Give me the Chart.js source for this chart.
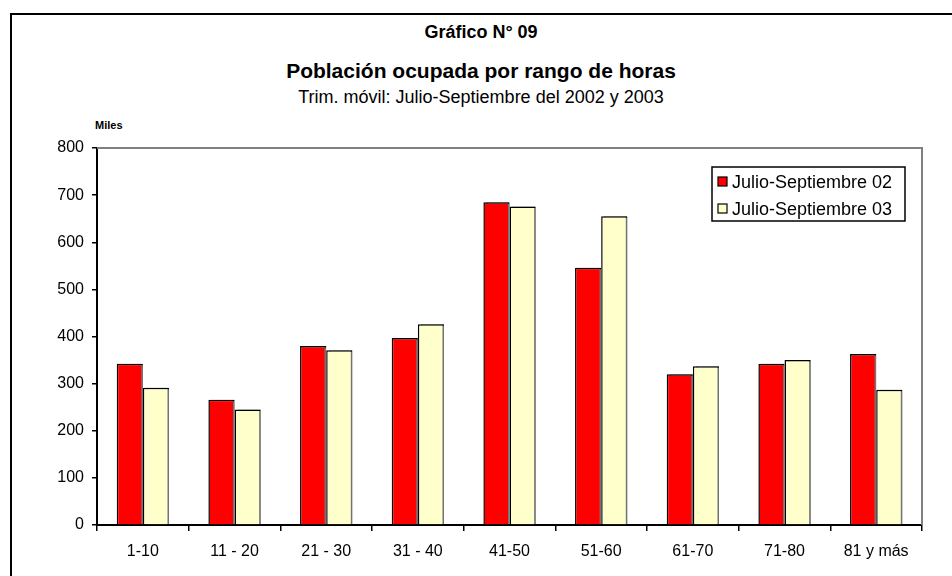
<!DOCTYPE html>
<html>
<head>
<meta charset="utf-8">
<script src="https://cdn.jsdelivr.net/npm/chart.js@4"></script>
<style>
  body { margin: 0; background: #fff; }
  #wrap { position: relative; width: 952px; height: 576px; overflow: hidden; }
  #frame { position: absolute; left: 10px; top: 13px; width: 960px; height: 600px; border-left: 2px solid #000; border-top: 2px solid #000; }
  .t { position: absolute; left: 0; width: 962px; text-align: center; color: #000; font-family: "Liberation Sans Narrow", "Arial Narrow", "Liberation Sans", sans-serif; white-space: nowrap; }
  #t1 { top: 22px; font-size: 18px; font-weight: bold; }
  #t2 { top: 59px; font-size: 21px; font-weight: bold; }
  #t3 { top: 87px; font-size: 18px; }
  #miles { position: absolute; left: 95px; top: 119px; font: bold 11px "Liberation Sans", Arial, sans-serif; }
  canvas { position: absolute; left: 0; top: 0; }
</style>
</head>
<body>
<div id="wrap">
  <div id="frame"></div>
  <div class="t" id="t1">Gráfico N° 09</div>
  <div class="t" id="t2">Población ocupada por rango de horas</div>
  <div class="t" id="t3">Trim. móvil: Julio-Septiembre del 2002 y 2003</div>
  <div id="miles">Miles</div>
  <canvas id="c" width="952" height="576"></canvas>
</div>
<script>
// data (miles)
const categories = ['1-10', '11 - 20', '21 - 30', '31 - 40', '41-50', '51-60', '61-70', '71-80', '81 y más'];
const jul02 = [342, 266, 380, 397, 685, 546, 320, 342, 363];
const jul03 = [291, 245, 371, 426, 676, 655, 337, 350, 287];
const seriesNames = ['Julio-Septiembre 02', 'Julio-Septiembre 03'];
const yTicks = [0, 100, 200, 300, 400, 500, 600, 700, 800];

// grey shadow on the right of each bar
const barShadow = {
  id: 'barShadow',
  beforeDatasetsDraw(chart) {
    const c = chart.ctx;
    c.save();
    c.shadowColor = 'rgba(128,128,128,0.9)';
    c.shadowOffsetX = 3;
    c.shadowOffsetY = 0;
    c.shadowBlur = 0;
  },
  afterDatasetsDraw(chart) {
    chart.ctx.restore();
  }
};

// gray plot frame top/right + boxed legend inside the plot
const frameAndLegend = {
  id: 'frameAndLegend',
  afterDraw(chart) {
    const c = chart.ctx;
    const a = chart.chartArea;
    c.save();
    c.strokeStyle = '#808080';
    c.lineWidth = 2;
    c.beginPath();
    c.moveTo(a.left, a.top);
    c.lineTo(a.right, a.top);
    c.lineTo(a.right, a.bottom);
    c.stroke();

    // legend box
    const bx = 712, by = 167, bw = 193, bh = 54;
    c.fillStyle = '#fff';
    c.fillRect(bx, by, bw, bh);
    c.strokeStyle = '#000';
    c.lineWidth = 1.5;
    c.strokeRect(bx, by, bw, bh);
    c.font = '18px "Liberation Sans", Arial, sans-serif';
    c.textBaseline = 'middle';
    chart.data.datasets.forEach((ds, i) => {
      const y = by + 15 + i * 27;
      c.fillStyle = ds.backgroundColor;
      c.fillRect(bx + 6, y - 5, 9, 9);
      c.strokeStyle = '#000';
      c.lineWidth = 1.2;
      c.strokeRect(bx + 6, y - 5, 9, 9);
      c.fillStyle = '#000';
      c.fillText(ds.label, bx + 20, y + 1);
    });
    c.restore();
  }
};

new Chart(document.getElementById('c'), {
  type: 'bar',
  data: {
    labels: categories,
    datasets: [
      { label: seriesNames[0], data: jul02, backgroundColor: '#FF0000', borderColor: '#000', borderWidth: 1.5 },
      { label: seriesNames[1], data: jul03, backgroundColor: '#FFFFCC', borderColor: '#000', borderWidth: 1.5 }
    ]
  },
  options: {
    responsive: false,
    animation: false,
    layout: { padding: { top: 148, right: 30, left: 0, bottom: 0 } },
    datasets: { bar: { categoryPercentage: 0.57, barPercentage: 1.0 } },
    plugins: { legend: { display: false }, tooltip: { enabled: false } },
    scales: {
      x: {
        grid: { display: true, drawOnChartArea: false, drawTicks: true, tickLength: 6, color: '#000', lineWidth: 1.5 },
        border: { display: true, color: '#000', width: 2 },
        ticks: { color: '#000', padding: 11, maxRotation: 0, font: { family: '"Liberation Sans Narrow", "Liberation Sans", sans-serif', size: 16 } },
        afterFit(s) { s.height = 51; }
      },
      y: {
        min: 0, max: 800,
        afterBuildTicks(s) { s.ticks = yTicks.map(v => ({ value: v })); },
        grid: { display: true, drawOnChartArea: false, drawTicks: true, tickLength: 5, color: '#000', lineWidth: 1.5 },
        border: { display: true, color: '#000', width: 2 },
        ticks: { color: '#000', padding: 8, font: { family: '"Liberation Sans", Arial, sans-serif', size: 16 } },
        afterFit(s) { s.width = 97; }
      }
    }
  },
  plugins: [barShadow, frameAndLegend]
});
</script>
</body>
</html>
